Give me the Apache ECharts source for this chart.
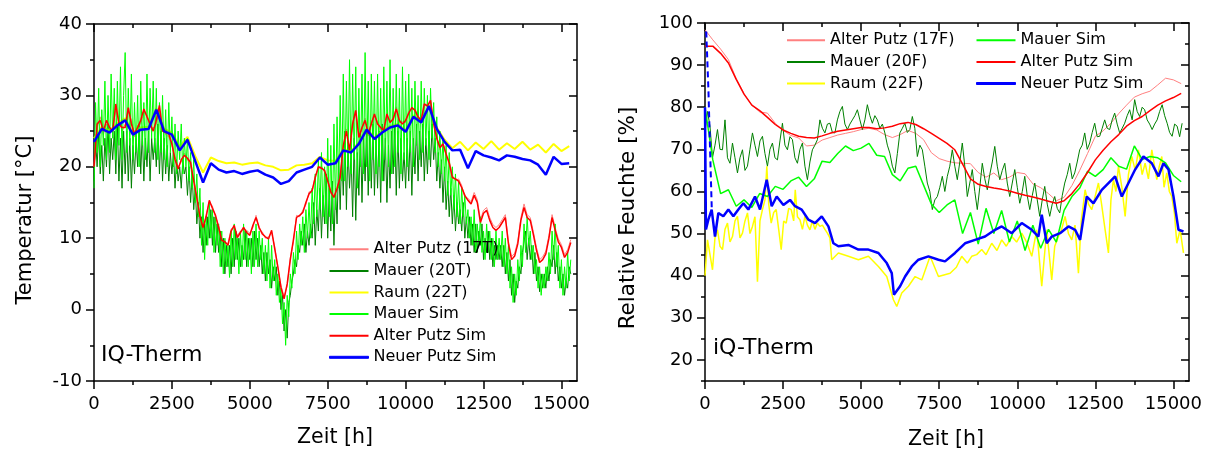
<!DOCTYPE html>
<html>
<head>
<meta charset="utf-8">
<script src="https://cdn.jsdelivr.net/npm/echarts@6.0.0/dist/echarts.min.js"></script>
<style>
html,body{margin:0;padding:0;background:#fff;}
#chart{width:1209px;height:452px;}
</style>
</head>
<body>
<div id="chart"></div>
<script>
// ---------------- DATA ----------------
// tick values
const xMajor = [0, 2500, 5000, 7500, 10000, 12500, 15000];
const xMinor = [1250, 3750, 6250, 8750, 11250, 13750];
const yMajorT = [-10, 0, 10, 20, 30, 40];
const yMinorT = [-5, 5, 15, 25, 35];
const yMajorH = [20, 30, 40, 50, 60, 70, 80, 90, 100];
const yMinorH = [15, 25, 35, 45, 55, 65, 75, 85, 95];

// ---- Temperature panel ----
// sampled every 50 h, 0..15300
const step50 = 50;
const mauerSimT = [
 17,29,22,31,20,28,23,32,21,30,22,33,24,31,21,32,23,34,21,30,
 36,22,31,23,33,21,29,22,30,20,32,23,29,21,33,22,31,24,32,22,
 31,21,29,22,30,21,28,20,29,22,27,20,26,19,25,21,26,19,24,20,
 24,18,22,17,21,15,19,13,17,9,15,7,13,9,15,10,14,8,13,9,
 12,6,11,5,10,6,9,4.5,11,6,12,7,10,5,11,6,12,7,11,6,
 10,5,11,6,12,6,11,7,10,5,9,4,10,3,9,4,7,2,5,1,
 3,-2,1,-5,2,-1,5,3,8,5,11,7,12,9,13,8,14,10,15,10,
 17,12,19,13,21,14,22,13,20,12,24,13,23,12,26,14,27,17,30,18,
 33,18,32,20,35,19,33,21,34,17,31,20,33,19,36,20,32,18,33,21,
 32,19,33,20,31,18,34,21,32,20,35,19,31,20,33,22,31,19,34,21,
 32,20,33,22,31,20,32,23,30,21,32,22,31,23,30,21,31,24,29,22,
 27,20,25,19,24,18,23,16,22,16,20,14,19,13,18,12,17,13,16,12,
 14,10,13,9,14,8,12,9,13,8,11,7,12,8,11,7,10,6,11,7,
 10,7,11,6,10,5,9,3,6,1,5,2,7,4,9,6,12,8,13,9,
 11,7,9,5,7,3,6,2,5,3,6,4,8,5,11,7,12,6,9,3,
 7,2,6,3,8,4,7];
const mauer20T = [
 18,24,20,25,19,23,18,24,20,26,19,24,21,25,19,26,18,24,17,25,
 19,25,18,24,17,23,19,24,20,26,19,25,18,24,20,25,18,24,21,24,
 20,26,19,25,18,24,19,23,18,22,19,22,17,21,18,20,17,21,19,20,
 16,20,15,19,14,17,12,15,10,13,8,12,9,13,10,14,9,13,8,12,
 8,11,6,10,5,9,6,9,5,10,6,11,7,10,6,9,7,11,6,10,
 7,10,6,11,7,10,6,9,5,8,4,8,5,7,3,6,4,6,2,4,
 0,2,-3,0,-4,1,2,4,5,7,6,9,8,11,9,12,8,11,9,12,
 10,15,9,14,11,17,10,16,12,19,10,17,11,18,9,17,12,21,14,22,
 16,25,14,23,17,22,13,24,12.5,22,16,25,15,24,18,26,16,25,17,26,
 16,24,17,25,15,26,18,24,15,23,17,25,19,26,16,25,17,24,18,22,
 17,24,18,25,16,24,19,26,18,25,20,26,18,24,19,25,20,26,21,24,
 18,22,17,21,15,20,14,18,13,17,12,16,11,15,12,14,11,15,10,13,
 10,13,9,12,8,12,8,11,9,12,7,10,8,11,7,10,6,9,7,9,
 7,9,6,9,5,8,4,7,2,5,1,4,3,6,5,8,8,11,7,10,
 7,9,5,8,4,6,2.5,5,3,5,3,6,4,7,6,9,5,8,4,6,
 3,5,2,4,3,6,5];
// sampled every 100 h, 0..15300
const step100 = 100;
const alterPutzSimT = [
 20,26,26.5,25,26.5,25.5,25,28.8,26,25.5,
 25.5,28.3,26,24.6,25.5,26.5,28.1,27,26,25,
 26.5,28.6,25,24.8,24.6,23.2,21,19.7,21,21.6,
 21.2,20.6,18,15.7,13,11.5,13,15.3,14.2,13.2,
 11.5,9.7,9.5,9,11,11.8,10.1,10.8,11.5,10.8,
 10.4,11.8,12.9,11.5,10.6,10.2,9.9,11.1,8.5,6,
 3.1,1.5,3.6,7,9.8,12.9,13.2,13.6,15,16.2,
 16.7,18.5,20,19.8,19.5,18,16.5,15.7,17,18.5,
 23,25,22.3,26,27.9,24.1,25.5,26.5,24.6,26,
 27.4,26,25.5,25.1,27.4,26.2,26.7,28.1,26.5,26,
 26.5,27.5,28.3,27.9,27,26.5,28.8,28.5,29.3,26,
 24,22.7,23.2,21.8,20.5,18.5,18.3,18,17.1,16,
 15.3,14.8,16,15,12.2,13.5,13.9,12.5,11.5,11.1,
 11.5,12.2,12.9,9.2,7,7.5,9.2,12.5,14.3,12.9,
 12.5,10.5,8.3,6.6,7,7.8,10,12.9,11.1,9.5,
 8.7,7.3,8,9.4];
const alterPutz17T = [
 20,25.5,27,24.5,26,25,25.5,28,26.5,25,
 26,27.8,26.5,24.2,25.8,26,27.6,27.3,25.6,25.4,
 26,28,25.5,24.5,24.2,23,21.4,20,20.7,21.9,
 21,20.2,18.4,15.4,13.4,11.2,13.4,15,14.5,13,
 11.8,9.9,9.3,9.3,11.3,11.5,10.4,11,11.2,11.1,
 10.7,11.5,13.2,11.2,10.9,10,10.2,10.8,8.8,5.8,
 3.4,1.8,3.3,7.3,9.5,13.2,13,13.9,14.7,16.5,
 16.4,18.8,19.7,20.1,19.2,18.3,16.2,16,16.7,18.8,
 22.6,25.3,22,26.3,27.5,24.4,25.2,26.8,24.3,26.3,
 27.1,26.3,25.2,25.4,27.1,26.5,26.4,28.4,26.2,26.3,
 26.2,27.8,28,28.2,26.7,26.8,28.5,28.8,29,26.4,
 24.3,22.4,23.5,21.5,20.8,18.8,18,18.3,17.4,15.7,
 15.6,15.1,16.4,15.4,12.6,13.9,14.3,12.9,11.9,11.5,
 11.9,12.6,13.3,9.6,7.4,7.9,9.6,12.9,14.8,13.3,
 12.9,10.9,8.7,7,7.4,8.2,10.4,13.3,11.5,9.9,
 9.1,7.7,8.4,9.8];
// sampled every 250 h, 0..15250
const step250 = 250;
const neuerPutzSimT = [
 23.5,25.3,24.8,25.8,26.5,24.5,25.2,25.3,28,25,
 24.5,22.3,23.8,20.8,17.8,20.5,19.6,19.2,19.4,19,
 19.3,19.5,18.9,18.5,17.6,18,19.2,19.6,20,21.3,
 20.3,20.5,22.3,22,23.2,25.2,23.9,24.8,25.5,25.8,
 24.9,27,26.2,28.5,25.3,23.5,22.3,22.4,19.8,22.2,
 21.6,21.3,20.9,21.6,21.4,21.1,20.9,20.3,18.9,21.4,
 20.4,20.5];
const raum22T = [
 24,25.6,25.1,26.1,26.8,24.8,25.5,25.6,28.2,25.3,
 24.8,22.8,24.2,21.5,19.2,21.3,20.8,20.5,20.6,20.3,
 20.5,20.6,20.2,20,19.5,19.6,20.2,20.3,20.5,21.4,
 20.9,20.8,22.5,22.2,23.4,25.4,24.1,25,25.7,26,
 25.1,27.2,26.4,28.6,25.5,23.8,22.6,23.5,22.3,23.4,
 22.5,23.6,22.4,23.3,22.5,23.5,22.4,23.1,22,23.2,
 22.2,22.9];

// ---- Humidity panel ----
// sampled every 250 h, 0..15250
const alterPutzSimH = [
 94.5,94.5,92.8,90.5,86.6,83.1,80.5,79.2,77.6,75.9,
 74.6,73.8,73.1,72.8,72.7,73.2,73.8,74.3,74.6,74.9,
 75.2,75.2,74.9,75.1,75.5,76.1,76.4,75.9,74.9,73.8,
 72.6,71.4,69.9,66.5,63,61.7,61.2,60.8,60.5,60.1,
 59.6,59.1,58.7,58.2,57.7,57.2,57.8,59.5,61.8,64.5,
 67.5,69.8,71.8,73.5,75.5,76.8,77.8,79.2,80.5,81.5,
 82.3,83.3];
const alterPutz17F = [
 98.4,96,93.8,91.3,86.8,83.2,80.5,78.9,78.6,76.2,
 74.5,73.3,72.7,70.8,71,72.2,72.8,73.4,73.8,74.2,
 74.7,75,74.6,73.5,72.8,73.5,74.5,73.8,72.3,69.2,
 67.8,67.2,66.8,66.7,66.6,64.5,63.4,64.4,62.8,63.4,
 64.5,64.2,61.8,60.9,59.5,57.8,58.6,61.4,65,69,
 73.1,74.4,76.2,78.5,80.5,82.4,83.2,83.8,85.3,86.9,
 86.5,85.6];
const mauerSimH = [
 80,67.5,59.5,60.4,56.5,58,56.2,59.5,58.8,61.2,
 60.5,62.5,63.4,61.2,63,67.2,66.9,69,70.8,69.7,
 70.3,71.4,68.6,68.3,64,62.5,65.5,66,61.5,57,
 55,56.8,58,50,55,47.5,56,50,55.5,48,
 53,46,52,46.5,51,48,55.5,58.8,60.8,64.8,
 63.6,65.2,68,66,65.3,70.8,67.6,68.3,68,66.8,
 63.8,62.3];
// sampled every 80 h, 0..15280
const step80 = 80;
const mauer20F = [
 74,79,75.5,68,71,74.7,70,69.9,77,68,66.7,71.5,68,64.4,68,69.9,65,66,70,73.9,
 71,68.3,72,73.1,69,66,70,71.5,68,67.5,72,76.2,71,69.9,73,72.3,68,66.7,70,71.5,
 66,62.8,67,69.9,71,72.3,77,75,73.9,76,76.2,74,73.9,77,79,80.2,76,74.7,76,77,
 78,79.4,77,74.7,77,80.6,78,76.2,78,77,75,76,73.9,71,69.1,66,64.4,69,73.9,75,
 76.2,74,74.7,77.8,75,68.3,71,69.9,66,62,60,55.7,58,58.8,61,63.6,60,63.6,66,69.9,
 66,62.8,67,71.5,66,58.8,62,65.2,60,55.7,61,66.7,63,60.4,64,67,70.7,66,62.8,65,
 66.7,62,58.8,62,65.2,61,57.2,60,63.6,59,55.7,59,62,58,54.1,58,61.2,57,54.1,57,
 58.8,56,54.9,59,62,64,66.7,63,64.4,67,69.9,71,73.9,70,71.5,74,76.2,73,73.1,75,
 77,75,74.7,77,78.6,76,73.9,75,76.2,78,79.4,77,81.8,79,77.8,80,79.4,77,76,74.7,
 76,77,79,80.6,78,76.2,74,73.1,76,75.5,73,76.2];
const raum22F_t = [
 0,80,160,240,320,400,480,560,640,720,
 800,880,960,1040,1120,1200,1280,1360,1440,1520,
 1600,1680,1760,1840,1920,1980,2040,2120,2200,2280,
 2360,2440,2520,2600,2680,2760,2840,2890,2960,3040,
 3120,3200,3280,3360,3440,3520,3600,3680,3760,3840,
 3920,4000,4058,
 4272,4592,4913,5233,5554,5821,6034,6141,6301,6515,6728,6942,7209,7476,
 7850,8050,8221,8400,8541,8700,8862,9000,9182,9350,
 9503,9650,9823,9980,10143,10300,10464,10624,10784,10944,
 11104,11200,11318,11420,11532,11640,11746,11850,11959,12050,
 12173,12280,12386,12500,12600,12700,12814,12920,13000,13080,
 13160,13241,13350,13455,13560,13668,13780,13882,14000,14095,
 14200,14309,14469,14550,14629,14700,14789,14870,14950,15030,
 15110,15216,15323];
const raum22F = [
 40,48.5,45,41.4,49,50.9,47,46.2,51,52.5,
 48,49.3,53,54.1,49,50.1,53,54.9,50,51.7,
 54,38.6,53,55.7,58,66,57,52.5,55,55.7,
 51,46.2,53,52.5,56,55.7,53,60.4,54,53.3,
 51,54.1,52,50.9,53,51,52.5,51.7,52,51,
 50.1,49,43.8,
 45.4,44.6,43.8,44.6,42.2,39.8,34.3,32.7,35.9,37.5,39.8,39,44.6,39.8,
 40.6,42,44.6,43,44.6,45,46.2,45,47.7,46,
 48.5,47,49.3,48,50.1,48,44.6,50.9,37.5,50.9,
 39,47,49.3,51,54.1,50,48.5,52,40.6,53,
 60.4,57,55.7,59,62,57,50.9,45.4,58,62.8,
 60,66,61,54.1,64,68.3,65,69.9,64,66.7,
 63,69.9,62.8,66,68.3,61,64.4,60,58.8,55,
 47.7,50.9,45.4];
const neuerPutzSimH_t = [
 0,30,107,214,320,427,587,748,908,1068,
 1228,1388,1602,1762,1976,2136,2296,2510,2723,2884,
 3097,3311,3524,3738,3952,4112,4272,4592,4913,5233,
 5554,5820,5981,6050,6248,6408,6621,6835,7156,7476,
 7687,8007,8328,8648,8969,9289,9503,9823,10143,10464,
 10677,10784,10944,11104,11371,11639,11852,12013,12226,12440,
 12707,12921,13134,13348,13561,13775,14041,14309,14523,14683,
 14843,15003,15163,15323];
const neuerPutzSimH = [
 80,51,53.3,55.7,49.3,54.9,54.1,55.7,54.1,55.7,
 57.2,55.7,58.8,55.7,62.8,56.5,58.8,56.8,58,56.5,
 55.7,53.3,52.5,54.1,51.7,47.7,47,47.3,46.2,46.2,
 45.4,43,40.6,35.5,37.5,39.8,42.2,43.8,44.6,43.8,
 43.4,45.4,47.7,48.5,49.3,50.9,51.7,50.1,52.5,50.9,
 49.3,54.5,47.7,49.3,50.1,51.7,50.9,48.5,58.8,57.2,
 60.4,62,63.6,58.8,62,65.2,68.3,66.7,63.6,66.7,
 65.2,58.8,50.9,50.5];
const startDash_t = [40, 110, 170, 220];
const startDash = [98, 84, 68, 55];

// ---------------- BUILD ----------------
function grid(n, step){ const a=[]; for(let i=0;i<n;i++) a.push(i*step); return a; }
function pairs(ts, vs){ return vs.map((v,i)=>[ts[i], v]); }
const t50 = grid(mauerSimT.length, step50);
const t100 = grid(alterPutzSimT.length, step100);
const t250 = grid(neuerPutzSimT.length, step250);
const t250h = grid(alterPutzSimH.length, step250);
const t80 = grid(mauer20F.length, step80);

const FONT = 'DejaVu Sans';
const AX = {color:'#000', width:1.5};
const fmt = v => String(v);

function xAxes(gi){
  const base = {type:'value', gridIndex:gi, min:0, max:15500, splitLine:{show:false}};
  return [
    Object.assign({}, base, {position:'bottom',
      axisLine:{show:true, onZero:false, lineStyle:AX},
      axisTick:{show:true, customValues:xMajor, length:8, lineStyle:AX},
      axisLabel:{show:true, customValues:xMajor, formatter:fmt, fontSize:18, fontFamily:FONT, color:'#000', margin:14}}),
    Object.assign({}, base, {position:'bottom',
      axisLine:{show:false, onZero:false},
      axisTick:{show:true, customValues:xMinor, length:4, lineStyle:AX},
      axisLabel:{show:false}}),
    Object.assign({}, base, {position:'top',
      axisLine:{show:true, onZero:false, lineStyle:AX},
      axisTick:{show:true, inside:true, customValues:xMajor, length:8, lineStyle:AX},
      axisLabel:{show:false}}),
    Object.assign({}, base, {position:'top',
      axisLine:{show:false, onZero:false},
      axisTick:{show:true, inside:true, customValues:xMinor, length:4, lineStyle:AX},
      axisLabel:{show:false}})
  ];
}
function yAxes(gi, mn, mx, major, minor){
  const base = {type:'value', gridIndex:gi, min:mn, max:mx, splitLine:{show:false}};
  return [
    Object.assign({}, base, {position:'left',
      axisLine:{show:true, onZero:false, lineStyle:AX},
      axisTick:{show:true, customValues:major, length:8, lineStyle:AX},
      axisLabel:{show:true, customValues:major, formatter:fmt, fontSize:18, fontFamily:FONT, color:'#000', margin:12}}),
    Object.assign({}, base, {position:'left',
      axisLine:{show:false, onZero:false},
      axisTick:{show:true, customValues:minor, length:4, lineStyle:AX},
      axisLabel:{show:false}}),
    Object.assign({}, base, {position:'right',
      axisLine:{show:true, onZero:false, lineStyle:AX},
      axisTick:{show:true, inside:true, customValues:major, length:8, lineStyle:AX},
      axisLabel:{show:false}}),
    Object.assign({}, base, {position:'right',
      axisLine:{show:false, onZero:false},
      axisTick:{show:true, inside:true, customValues:minor, length:4, lineStyle:AX},
      axisLabel:{show:false}})
  ];
}

function line(name, data, color, width, xi, yi, extra){
  return Object.assign({
    type:'line', name:name, data:data, xAxisIndex:xi, yAxisIndex:yi,
    symbol:'none', showSymbol:false, animation:false, clip:true,
    lineStyle:{color:color, width:width}, itemStyle:{color:color},
    emphasis:{disabled:true}
  }, extra||{});
}

const C17 = '#ff8080', C20 = '#008000', C22 = '#ffff00', CMS = '#00ff00', CAS = '#ff0000', CNS = '#0000ff';

const series = [
  line('Alter Putz (17T)', pairs(t100, alterPutz17T), C17, 1, 0, 0),
  line('Mauer (20T)', pairs(t50, mauer20T), C20, 1, 0, 0),
  line('Raum (22T)', pairs(t250, raum22T), C22, 2, 0, 0),
  line('Mauer Sim', pairs(t50, mauerSimT), CMS, 1, 0, 0),
  line('Alter Putz Sim', pairs(t100, alterPutzSimT), CAS, 1.5, 0, 0),
  line('Neuer Putz Sim', pairs(t250, neuerPutzSimT), CNS, 2.5, 0, 0),

  line('Alter Putz (17F)', pairs(t250h, alterPutz17F), C17, 1, 4, 4),
  line('Mauer (20F)', pairs(t80, mauer20F), C20, 1, 4, 4),
  line('Raum (22F)', pairs(raum22F_t, raum22F), C22, 1.5, 4, 4),
  line('Mauer Sim', pairs(t250h, mauerSimH), CMS, 1.5, 4, 4),
  line('Alter Putz Sim', pairs(t250h, alterPutzSimH), CAS, 1.5, 4, 4),
  line('Neuer Putz Sim', pairs(neuerPutzSimH_t, neuerPutzSimH), CNS, 2.5, 4, 4),
  line('start', pairs(startDash_t, startDash), CNS, 2, 4, 4, {lineStyle:{color:CNS, width:2, type:[6,4]}})
];

const legendText = {fontSize:16, fontFamily:FONT, color:'#000', lineHeight:21.6};
const blueItem = {name:'Neuer Putz Sim', itemStyle:{borderColor:CNS, borderWidth:1}};
const legendBase = {orient:'vertical', itemHeight:2, itemGap:0, padding:0, icon:'rect',
  selectedMode:false, textStyle:legendText};
const option = {
  backgroundColor:'#fff',
  animation:false,
  grid:[
    {left:94, top:24, width:483, height:357, containLabel:false},
    {left:705, top:23, width:484, height:358, containLabel:false}
  ],
  xAxis: xAxes(0).concat(xAxes(1)),
  yAxis: yAxes(0, -10, 40, yMajorT, yMinorT).concat(yAxes(1, 15, 100, yMajorH, yMinorH)),
  legend:[
    Object.assign({}, legendBase, {data:['Alter Putz (17T)','Mauer (20T)','Raum (22T)','Mauer Sim','Alter Putz Sim', blueItem],
      left:329, top:238.5, itemWidth:39}),
    Object.assign({}, legendBase, {data:['Alter Putz (17F)','Mauer (20F)','Raum (22F)'],
      left:787, top:29.5, itemWidth:38}),
    Object.assign({}, legendBase, {data:['Mauer Sim','Alter Putz Sim', blueItem],
      left:976, top:29.5, itemWidth:39})
  ],
  graphic:[
    {type:'text', x:26, y:220, rotation:Math.PI/2,
     style:{text:'Temperatur [°C]', fontSize:21, fontFamily:FONT, fill:'#000', textAlign:'center', textVerticalAlign:'middle'}},
    {type:'text', x:628, y:218, rotation:Math.PI/2,
     style:{text:'Relative Feuchte [%]', fontSize:21.5, fontFamily:FONT, fill:'#000', textAlign:'center', textVerticalAlign:'middle'}},
    {type:'text', x:335, y:438,
     style:{text:'Zeit [h]', fontSize:20.5, fontFamily:FONT, fill:'#000', textAlign:'center', textVerticalAlign:'middle'}},
    {type:'text', x:946, y:440,
     style:{text:'Zeit [h]', fontSize:20.5, fontFamily:FONT, fill:'#000', textAlign:'center', textVerticalAlign:'middle'}},
    {type:'text', x:101, y:355,
     style:{text:'IQ-Therm', fontSize:22, fontFamily:FONT, fill:'#000', textAlign:'left', textVerticalAlign:'middle'}},
    {type:'text', x:713, y:348,
     style:{text:'iQ-Therm', fontSize:22, fontFamily:FONT, fill:'#000', textAlign:'left', textVerticalAlign:'middle'}}
  ],
  series: series
};
const chart = echarts.init(document.getElementById('chart'), null, {renderer:'canvas'});
chart.setOption(option);
</script>
</body>
</html>
